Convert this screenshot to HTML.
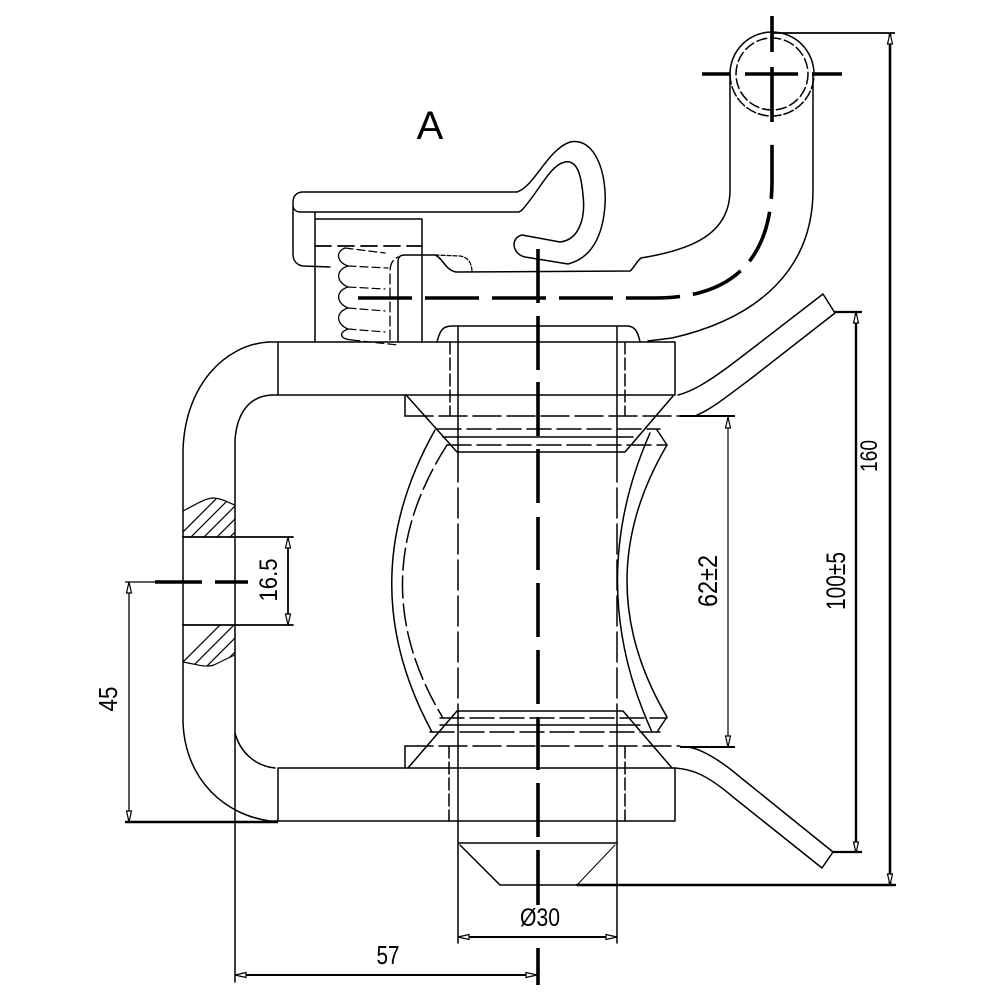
<!DOCTYPE html>
<html><head><meta charset="utf-8"><style>html,body{margin:0;padding:0;background:#fff}svg{display:block}</style></head>
<body>
<svg width="1000" height="1000" viewBox="0 0 1000 1000" xmlns="http://www.w3.org/2000/svg">
<defs>
<clipPath id="h1"><path d="M183 511 C195 505 205 498 214 498 C224 499 229 503 235 505 L235 537 L183 537 Z"/></clipPath>
<clipPath id="h2"><path d="M183 625 L235 625 L235 655 C228 658 222 661 214 665 C205 668 195 664 183 662 Z"/></clipPath>
</defs>
<g fill="none" stroke="#000" stroke-width="1.5" stroke-linecap="round" stroke-linejoin="round">
<!-- lever -->
<path d="M330 267 L303 266 C297 265 293 261 293 254 L293 202 C293 196 297 192 303 192 L517 192 C535 186 547 150 570 142 C596 137 607 175 605 205 C603 235 592 258 568 264 L525 257 C512 254 510 238 522 235 L560 242 C578 240 586 220 583 195 C581 172 576 160 565 162 C550 165 540 190 522 210 L519 212 L300 212 C296 212 293 209 293 206"/>
<!-- housing -->
<path d="M315 212 L315 342 M315 219 L422 219 L422 342"/>
<path d="M315 246 L422 246" stroke-dasharray="16 7" stroke-width="1.8"/>
<!-- spring -->
<path d="M345 248 C335 252 337 262 348 266 C335 270 336 282 348 287 C335 291 336 303 348 308 C335 312 336 324 348 329 C338 333 340 339 352 340" stroke-width="1.3"/>
<path d="M345 248 L385 253 M348 266 L388 268 M348 287 L385 289 M348 308 L385 311 M348 329 L385 332 M352 340 L398 345" stroke-width="1.2" stroke-dasharray="8 4"/>
<!-- inner piece -->
<path d="M398 342 L398 262 C398 257 400 255 405 255 L435 255 C443 258 445 270 456 272"/>
<path d="M435 255 L460 256 C468 257 472 263 472 272" stroke-width="1.2" stroke-dasharray="4 2"/>
<path d="M390 340 L390 272 C390 264 393 259 398 257" stroke-dasharray="10 4" stroke-width="1.3"/>
<!-- bar top + tube left edge -->
<path d="M456 272 L630 271 C634 268 636 262 641 258 C690 250 730 235 730 190 L730 74"/>
<!-- tube right edge -->
<path d="M813 74 L813 190 C813 268 760 318 672 338 L648 341"/>
<!-- circle -->
<path d="M730 74 A42 42 0 0 1 814 74"/>
<path d="M730 74 A42 42 0 0 0 814 74" stroke-dasharray="10 3"/>
<circle cx="772" cy="74" r="36" stroke-dasharray="10 4"/>
<!-- boss -->
<path d="M437 342 C440 330 443 326 452 326 L627 326 C635 326 638 332 640 342"/>
<!-- top plate -->
<path d="M268 342 L675 342 L675 395 L272 395 M278 342 L278 395"/>
<!-- left bracket -->
<path d="M268 342 C225 345 185 385 183 450 L183 722 C185 780 225 815 270 821 L278 821"/>
<path d="M272 395 C250 396 237 412 235 440 L235 982"/>
<path d="M235 733 C240 752 255 766 275 768"/>
<!-- verticals through plates -->
<path d="M458 326 L458 452 M617 326 L617 452"/>
<path d="M450 342 L450 416 M625 342 L625 416" stroke-dasharray="12 4"/>
<path d="M458 452 L458 711 M617 452 L617 711" stroke-dasharray="30 6"/>
<!-- top flange -->
<path d="M405 395 L405 416"/>
<path d="M405 416 L680 416" stroke-dasharray="28 6"/>
<path d="M407 396 L457 452 L625 452 L673 396"/>
<path d="M443 437 L633 437"/>
<path d="M437 429 L660 429 M447 445 L667 445" stroke-dasharray="24 6"/>
<!-- roller -->
<path d="M435 430 Q350 581 432 732"/>
<path d="M447 445 Q360 581 443 718" stroke-dasharray="22 6"/>
<path d="M657 430 L667 445 Q587 581 667 717 L657 732"/>
<path d="M650 433 Q584 583 652 732"/>
<!-- bottom flange -->
<path d="M408 768 L457 711 L623 711 L672 768"/>
<path d="M440 725 L640 725"/>
<path d="M440 718 L667 718 M430 732 L660 732" stroke-dasharray="24 6"/>
<path d="M405 746 L680 746" stroke-dasharray="28 6"/>
<path d="M405 746 L405 768"/>
<!-- bottom plate -->
<path d="M278 768 L675 768 L675 821 L278 821 Z"/>
<path d="M449 746 L449 821 M625 746 L625 821" stroke-dasharray="12 4"/>
<path d="M458 711 L458 943 M617 711 L617 943"/>
<!-- nut -->
<path d="M458 843 L617 843 M460 845 L500 885 L577 885"/>
<path d="M615 845 L577 885" stroke-width="1"/>
<path d="M577 885 L895 885" stroke-width="2.4"/>
<!-- right brackets -->
<path d="M678 395 C690 392 705 385 740 358 L823 294 L835 313 L753 377 C725 398 710 410 697 415"/>
<path d="M675 768 C690 769 705 773 733 797 L822 868 L833 852 L740 777 C720 760 700 748 687 747"/>
<!-- hatch section -->
<path d="M183 511 C195 505 205 498 214 498 C224 499 229 503 235 505" stroke-width="1.2"/>
<path d="M183 662 C195 664 205 668 214 665 C222 661 228 658 235 655" stroke-width="1.2"/>
<path d="M183 537 L293 537 M183 625 L293 625" stroke-width="1.8"/>
<g clip-path="url(#h1)" stroke-width="1.2">
<path d="M170 545 L220 495 M183 545 L233 495 M196 545 L246 495 M209 545 L259 495 M222 545 L272 495"/>
</g>
<g clip-path="url(#h2)" stroke-width="1.2">
<path d="M170 675 L225 620 M184 675 L239 620 M198 675 L253 620 M212 675 L267 620"/>
</g>
</g>

<!-- centerlines -->
<g fill="none" stroke="#000" stroke-width="3.6" stroke-linecap="butt">
<path d="M538 249 V303 M538 316 V370 M538 382 V436 M538 449 V503 M538 517 V570 M538 583 V637 M538 650 V704 M538 717 V770 M538 783 V837 M538 850 V905 M538 948 V985"/>
<path d="M358 298 L655 298 Q772 298 772 181 L772 135" stroke-dasharray="54 13"/>
<path d="M772 16 V52 M772 67 V122 M702 74 H730 M745 74 H798 M812 74 H842"/>
<path d="M155 582 H202 M215 582 H248"/>
</g>

<!-- dimension lines -->
<g fill="none" stroke="#000" stroke-linecap="butt">
<path d="M125 582 H155" stroke-width="1.2"/>
<path d="M129 582 V822" stroke-width="1.3"/>
<path d="M125 822 H278" stroke-width="2.4"/>
<path d="M288 537 V625" stroke-width="1.8"/>
<path d="M728 417 V747" stroke-width="1.2"/>
<path d="M680 416 H735 M680 747 H735" stroke-width="2"/>
<path d="M856 312 V853" stroke-width="2.4"/>
<path d="M835 312 H862 M833 852 H862" stroke-width="2.2"/>
<path d="M890 33 V885" stroke-width="2.6"/>
<path d="M773 33 H895" stroke-width="1.8"/>
<path d="M235 975 H537" stroke-width="2"/>
<path d="M458 937 H617" stroke-width="2"/>
</g>
<g fill="#fff" stroke="#000" stroke-width="1.2">
<polygon points="728,417 725.5,428 730.5,428"/>
<polygon points="728,747 725.5,736 730.5,736"/>
<polygon points="856,312 853.5,323 858.5,323"/>
<polygon points="856,853 853.5,842 858.5,842"/>
<polygon points="890,33 887.5,44 892.5,44"/>
<polygon points="890,885 887.5,874 892.5,874"/>
<polygon points="288,537 285.5,548 290.5,548"/>
<polygon points="288,625 285.5,614 290.5,614"/>
<polygon points="129,582 126.5,593 131.5,593"/>
<polygon points="129,822 126.5,811 131.5,811"/>
<polygon points="235,975 246,972.5 246,977.5"/>
<polygon points="537,975 526,972.5 526,977.5"/>
<polygon points="458,937 469,934.5 469,939.5"/>
<polygon points="617,937 606,934.5 606,939.5"/>
</g>

<!-- text -->
<g font-family="'Liberation Sans', sans-serif" fill="#000">
<text x="430" y="139" font-size="40" text-anchor="middle">A</text>
<text transform="translate(277,580) rotate(-90)" font-size="25" text-anchor="middle" textLength="43" lengthAdjust="spacingAndGlyphs">16.5</text>
<text transform="translate(117,699) rotate(-90)" font-size="26" text-anchor="middle" textLength="25" lengthAdjust="spacingAndGlyphs">45</text>
<text transform="translate(717,581) rotate(-90)" font-size="27" text-anchor="middle" textLength="52" lengthAdjust="spacingAndGlyphs">62±2</text>
<text transform="translate(845,581) rotate(-90)" font-size="27" text-anchor="middle" textLength="58" lengthAdjust="spacingAndGlyphs">100±5</text>
<text transform="translate(877,456) rotate(-90)" font-size="24" text-anchor="middle" textLength="32" lengthAdjust="spacingAndGlyphs">160</text>
<text x="388" y="964" font-size="26" text-anchor="middle" textLength="23" lengthAdjust="spacingAndGlyphs">57</text>
<text x="540" y="926" font-size="25" text-anchor="middle" textLength="40" lengthAdjust="spacingAndGlyphs">Ø30</text>
</g>
</svg>
</body></html>
